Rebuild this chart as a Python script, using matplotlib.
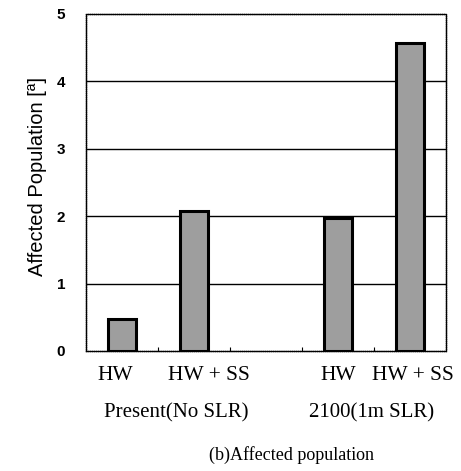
import matplotlib
matplotlib.use('Agg')
import matplotlib.pyplot as plt
import numpy as np

# data (slot 2 is the empty gap between groups)
categories = ['HW', 'HW + SS', '', 'HW', 'HW + SS']
values = [0.47, 2.08, np.nan, 1.98, 4.57]
groups = ['Present(No SLR)', '2100(1m SLR)']
group_pos = [0.75, 3.46]
yticks = [0, 1, 2, 3, 4, 5]

fig = plt.figure(figsize=(4.61, 4.71), dpi=100)
ax = fig.add_axes([0.1866, 0.2548, 0.781, 0.7155])

x = np.arange(len(categories))
# grid lines first so the bars sit on top
for t in yticks[1:-1]:
    ax.axhline(t, color='black', lw=1.0, zorder=1)
ax.bar(x, values, width=0.4, color='#9e9e9e', edgecolor='black',
       linewidth=2.2, zorder=3)

ax.set_xlim(-0.5, 4.5)
ax.set_ylim(0, 5)
ax.set_yticks(yticks)
ax.set_yticklabels([str(t) for t in yticks], fontfamily='Liberation Sans',
                   fontweight='bold', fontsize=11)
ax.tick_params(axis='y', length=0, pad=15)

# labels in the scan sit a little off the bar centres
label_shift = [-0.1, 0.21, 0, 0, 0.04]
ax.set_xticks(x + np.array(label_shift))
ax.set_xticklabels(categories, fontfamily='Liberation Serif', fontsize=15.5)
ax.tick_params(axis='x', length=0, pad=11)
ax.set_xticks([0.5, 1.5, 2.5, 3.5], minor=True)
ax.tick_params(axis='x', which='minor', direction='in', length=3, width=0.8)

for sp in ax.spines.values():
    sp.set_linewidth(1.0)
    sp.set_linestyle((0, (1, 0.5)))

ax.set_ylabel('Affected Population [ª]', fontfamily='Liberation Sans',
              fontsize=14.5)
ax.yaxis.set_label_coords(-0.108, 0.518)

for g, gx in zip(groups, group_pos):
    ax.text(gx, -0.92, g, ha='center', va='center',
            fontfamily='Liberation Serif', fontsize=15)
ax.text(2.35, -1.54, '(b)Affected population', ha='center', va='center',
        fontfamily='Liberation Serif', fontsize=13)

fig.savefig('out.png', dpi=100)
